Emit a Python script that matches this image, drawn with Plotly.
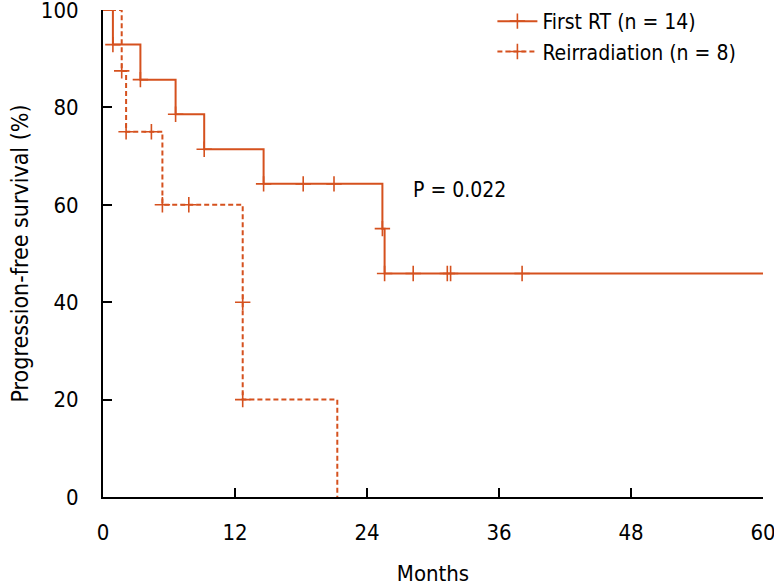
import plotly.graph_objects as go

# First RT (n = 14) step curve
first_t = [0, 0.9, 3.4, 6.6, 9.2, 14.6, 25.4, 25.6, 60]
first_s = [100, 92.9, 85.7, 78.6, 71.4, 64.3, 55.1, 45.9, 45.9]
first_mark_t = [0.9, 3.4, 6.6, 9.2, 14.6, 18.2, 21.0, 25.4, 25.6, 28.2, 31.3, 31.6, 38.1]
first_mark_s = [92.9, 85.7, 78.6, 71.4, 64.3, 64.3, 64.3, 55.1, 45.9, 45.9, 45.9, 45.9, 45.9]

# Reirradiation (n = 8) step curve
re_t = [0, 1.7, 2.1, 5.4, 12.7, 21.3]
re_s = [100, 87.5, 75, 60, 20, 0]
re_mark_t = [1.7, 2.1, 4.4, 5.4, 7.8, 12.7, 12.7]
re_mark_s = [87.5, 75, 75, 60, 60, 40, 20]

x_ticks = [0, 12, 24, 36, 48, 60]
y_ticks = [0, 20, 40, 60, 80, 100]

COLOR = "#D5511E"
FONT = "DejaVu Sans Condensed, DejaVu Sans, sans-serif"
cross = dict(symbol="cross-thin-open", size=11, color=COLOR, line=dict(color=COLOR, width=1.6))

fig = go.Figure()
fig.add_trace(go.Scatter(x=first_t, y=first_s, mode="lines", line=dict(color=COLOR, width=2, shape="hv"),
                         showlegend=False, hoverinfo="skip", cliponaxis=False))
fig.add_trace(go.Scatter(x=first_mark_t, y=first_mark_s, mode="markers", marker=cross,
                         showlegend=False, cliponaxis=False))
fig.add_trace(go.Scatter(x=re_t, y=re_s, mode="lines", line=dict(color=COLOR, width=2, shape="hv", dash="5px,3px"),
                         showlegend=False, hoverinfo="skip", cliponaxis=False))
fig.add_trace(go.Scatter(x=re_mark_t, y=re_mark_s, mode="markers", marker=cross,
                         showlegend=False, cliponaxis=False))
# legend entries
fig.add_trace(go.Scatter(x=[None], y=[None], mode="lines+markers", name="First RT (n = 14)",
                         line=dict(color=COLOR, width=2), marker=cross))
fig.add_trace(go.Scatter(x=[None], y=[None], mode="lines+markers", name="Reirradiation (n = 8)",
                         line=dict(color=COLOR, width=2, dash="5px,3px"), marker=cross))

fig.add_annotation(x=32.4, y=63.0, text="P = 0.022", showarrow=False,
                   font=dict(family=FONT, size=21, color="black"))

axis_common = dict(showline=True, linecolor="black", linewidth=2, ticks="inside", ticklen=9,
                   tickwidth=2, tickcolor="black", showgrid=False, zeroline=False, automargin=False,
                   ticklabeloverflow="allow",
                   tickfont=dict(family=FONT, size=22, color="black"))
fig.update_xaxes(range=[0, 60], tickvals=x_ticks, ticklabelstandoff=15,
                 title=dict(text="Months", font=dict(family=FONT, size=22, color="black"), standoff=29),
                 **axis_common)
fig.update_yaxes(range=[0, 100], tickvals=y_ticks, ticklabelstandoff=18,
                 title=dict(text="Progression-free survival (%)", font=dict(family=FONT, size=23, color="black"), standoff=6),
                 **axis_common)

fig.update_layout(
    width=774, height=586,
    margin=dict(l=103, r=11, t=10, b=89, autoexpand=False),
    plot_bgcolor="white", paper_bgcolor="white",
    font=dict(family=FONT, size=22, color="black"),
    legend=dict(x=0.59, y=1.0185, xanchor="left", yanchor="top", bgcolor="rgba(0,0,0,0)",
                font=dict(family=FONT, size=21, color="black"), itemwidth=40, tracegroupgap=0),
)

fig.write_html("out.html", config={"displayModeBar": False},
               post_script="document.body.style.margin='0';document.body.style.overflow='hidden';")
